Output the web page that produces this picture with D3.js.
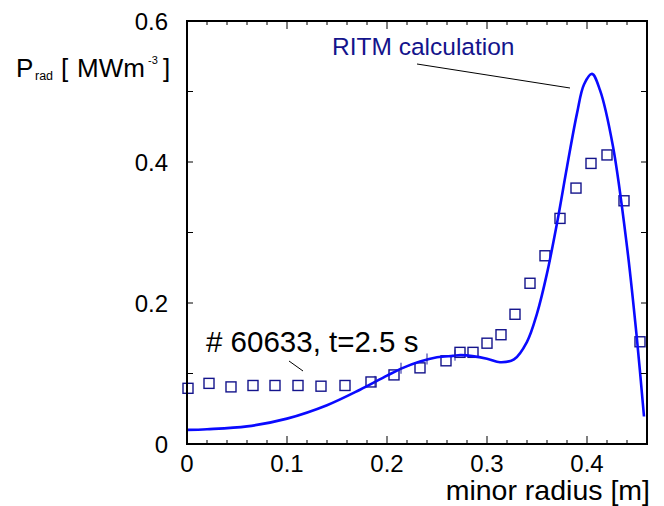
<!DOCTYPE html>
<html>
<head>
<meta charset="utf-8">
<script src="https://cdn.jsdelivr.net/npm/d3@7"></script>
<style>
  body { margin: 0; background: #fff; }
  text { font-family: Arial, "Liberation Sans", sans-serif; }
</style>
</head>
<body>
<div id="chart"></div>
<script>
// RITM calculation (solid curve)
const calcR = [0, 0.02, 0.06, 0.1, 0.14, 0.173, 0.2, 0.216, 0.233, 0.25, 0.266, 0.274, 0.3, 0.313, 0.327, 0.34, 0.35, 0.36, 0.37, 0.38, 0.39, 0.397, 0.405, 0.413, 0.426, 0.44, 0.45, 0.457];
const calcP = [0.02, 0.021, 0.025, 0.036, 0.055, 0.077, 0.097, 0.108, 0.117, 0.123, 0.125, 0.126, 0.121, 0.116, 0.12, 0.145, 0.185, 0.242, 0.313, 0.393, 0.469, 0.51, 0.525, 0.502, 0.422, 0.28, 0.148, 0.039];

// measured points (#60633, t=2.5 s)
const measR = [0.001, 0.022, 0.044, 0.066, 0.088, 0.111, 0.134, 0.158, 0.184, 0.207, 0.233, 0.259, 0.273, 0.286, 0.3, 0.314, 0.328, 0.343, 0.358, 0.373, 0.389, 0.404, 0.42, 0.437, 0.453];
const measP = [0.079, 0.086, 0.081, 0.083, 0.083, 0.083, 0.082, 0.083, 0.088, 0.098, 0.108, 0.118, 0.13, 0.13, 0.143, 0.155, 0.184, 0.228, 0.267, 0.32, 0.363, 0.398, 0.41, 0.345, 0.145];

// small marks on the curve
const markR = [0.188, 0.214, 0.24, 0.268];

const xLabels = [0, 0.1, 0.2, 0.3, 0.4];
const yLabels = [0, 0.2, 0.4, 0.6];

const width = 664, height = 506;
const margin = { top: 21, right: 17, bottom: 62, left: 187 };

const x = d3.scaleLinear()
  .domain([0, 0.46])
  .range([margin.left, width - margin.right]);

const y = d3.scaleLinear()
  .domain([0, 0.6])
  .range([height - margin.bottom, margin.top]);

const svg = d3.select("#chart")
  .append("svg")
  .attr("width", width)
  .attr("height", height);

const calc = calcR.map((r, i) => ({ r, p: calcP[i] }));
const meas = measR.map((r, i) => ({ r, p: measP[i] }));

const line = d3.line()
  .curve(d3.curveCatmullRom.alpha(0.5))
  .x((d) => x(d.r))
  .y((d) => y(d.p));

// clip to plot area
svg.append("defs").append("clipPath").attr("id", "plot")
  .append("rect")
  .attr("x", x(0)).attr("y", y(0.6))
  .attr("width", x(0.46) - x(0)).attr("height", y(0) - y(0.6));

// squares
svg.append("g")
  .selectAll("rect")
  .data(meas)
  .join("rect")
  .attr("x", (d) => x(d.r) - 5)
  .attr("y", (d) => y(d.p) - 5)
  .attr("width", 10)
  .attr("height", 10)
  .attr("fill", "none")
  .attr("stroke", "#14148c")
  .attr("stroke-width", 1.4);

// curve
const curvePath = svg.append("path")
  .datum(calc)
  .attr("clip-path", "url(#plot)")
  .attr("fill", "none")
  .attr("stroke", "#0a0aff")
  .attr("stroke-width", 2.6)
  .attr("d", line);

// marks crossing the curve
const node = curvePath.node();
const total = node.getTotalLength();
function curveYAt(px) {
  let lo = 0, hi = total;
  for (let i = 0; i < 40; i++) {
    const mid = (lo + hi) / 2;
    if (node.getPointAtLength(mid).x < px) lo = mid; else hi = mid;
  }
  return node.getPointAtLength(lo).y;
}
svg.append("g")
  .selectAll("line")
  .data(markR)
  .join("line")
  .attr("x1", (d) => x(d)).attr("x2", (d) => x(d))
  .attr("y1", (d) => curveYAt(x(d)) - 6)
  .attr("y2", (d) => curveYAt(x(d)) + 5)
  .attr("stroke", "#1a1aa0")
  .attr("stroke-width", 1);

// axes: ticks pointing inward
const xMinor = d3.range(0, 0.461, 0.02);
const yTicks = d3.range(0, 0.61, 0.1);

function xTicks(g, y0, dir) {
  g.selectAll("line")
    .data(xMinor)
    .join("line")
    .attr("x1", (d) => x(d)).attr("x2", (d) => x(d))
    .attr("y1", y0)
    .attr("y2", (d) => y0 + dir * (Math.abs(d * 10 - Math.round(d * 10)) < 1e-6 ? 8 : 4))
    .attr("stroke", "#000")
    .attr("stroke-width", 1);
}
xTicks(svg.append("g"), y(0), -1);
xTicks(svg.append("g"), y(0.6), 1);

function yTickLines(g, x0, dir) {
  g.selectAll("line")
    .data(yTicks)
    .join("line")
    .attr("x1", x0).attr("x2", x0 + dir * 6)
    .attr("y1", (d) => y(d)).attr("y2", (d) => y(d))
    .attr("stroke", "#000")
    .attr("stroke-width", 1);
}
yTickLines(svg.append("g"), x(0), 1);
yTickLines(svg.append("g"), x(0.46), -1);

// frame
svg.append("rect")
  .attr("x", x(0)).attr("y", y(0.6))
  .attr("width", x(0.46) - x(0)).attr("height", y(0) - y(0.6))
  .attr("fill", "none")
  .attr("stroke", "#000")
  .attr("stroke-width", 2);

// tick labels
svg.append("g")
  .selectAll("text")
  .data(xLabels)
  .join("text")
  .attr("x", (d) => x(d))
  .attr("y", y(0) + 28)
  .attr("text-anchor", "middle")
  .attr("font-size", 24)
  .text((d) => d3.format("")(d));

svg.append("g")
  .selectAll("text")
  .data(yLabels)
  .join("text")
  .attr("x", x(0) - 19)
  .attr("y", (d) => y(d))
  .attr("dy", "0.36em")
  .attr("text-anchor", "end")
  .attr("font-size", 24)
  .text((d) => d3.format("")(d));

// axis titles
svg.append("text")
  .attr("x", 650)
  .attr("y", 500)
  .attr("text-anchor", "end")
  .attr("font-size", 28.5)
  .text("minor radius [m]");

const yTitle = svg.append("g").attr("font-size", 26);
yTitle.append("text").attr("x", 16).attr("y", 77).text("P");
yTitle.append("text").attr("x", 35).attr("y", 80).attr("font-size", 12.5).text("rad");
yTitle.append("text").attr("x", 61).attr("y", 77).text("[");
yTitle.append("text").attr("x", 77).attr("y", 77).text("MWm");
yTitle.append("text").attr("x", 148).attr("y", 64).attr("font-size", 11).text("-3");
yTitle.append("text").attr("x", 163).attr("y", 77).text("]");

// annotations
svg.append("text")
  .attr("x", 332)
  .attr("y", 55)
  .attr("font-size", 24.5)
  .attr("fill", "#14148c")
  .text("RITM calculation");
svg.append("line")
  .attr("x1", 417).attr("y1", 64)
  .attr("x2", 570).attr("y2", 88)
  .attr("stroke", "#000")
  .attr("stroke-width", 1);

svg.append("text")
  .attr("x", 206)
  .attr("y", 352)
  .attr("font-size", 29.5)
  .attr("fill", "#000")
  .text("# 60633, t=2.5 s");
svg.append("line")
  .attr("x1", 289).attr("y1", 361)
  .attr("x2", 303).attr("y2", 371)
  .attr("stroke", "#000")
  .attr("stroke-width", 1);
</script>
</body>
</html>
